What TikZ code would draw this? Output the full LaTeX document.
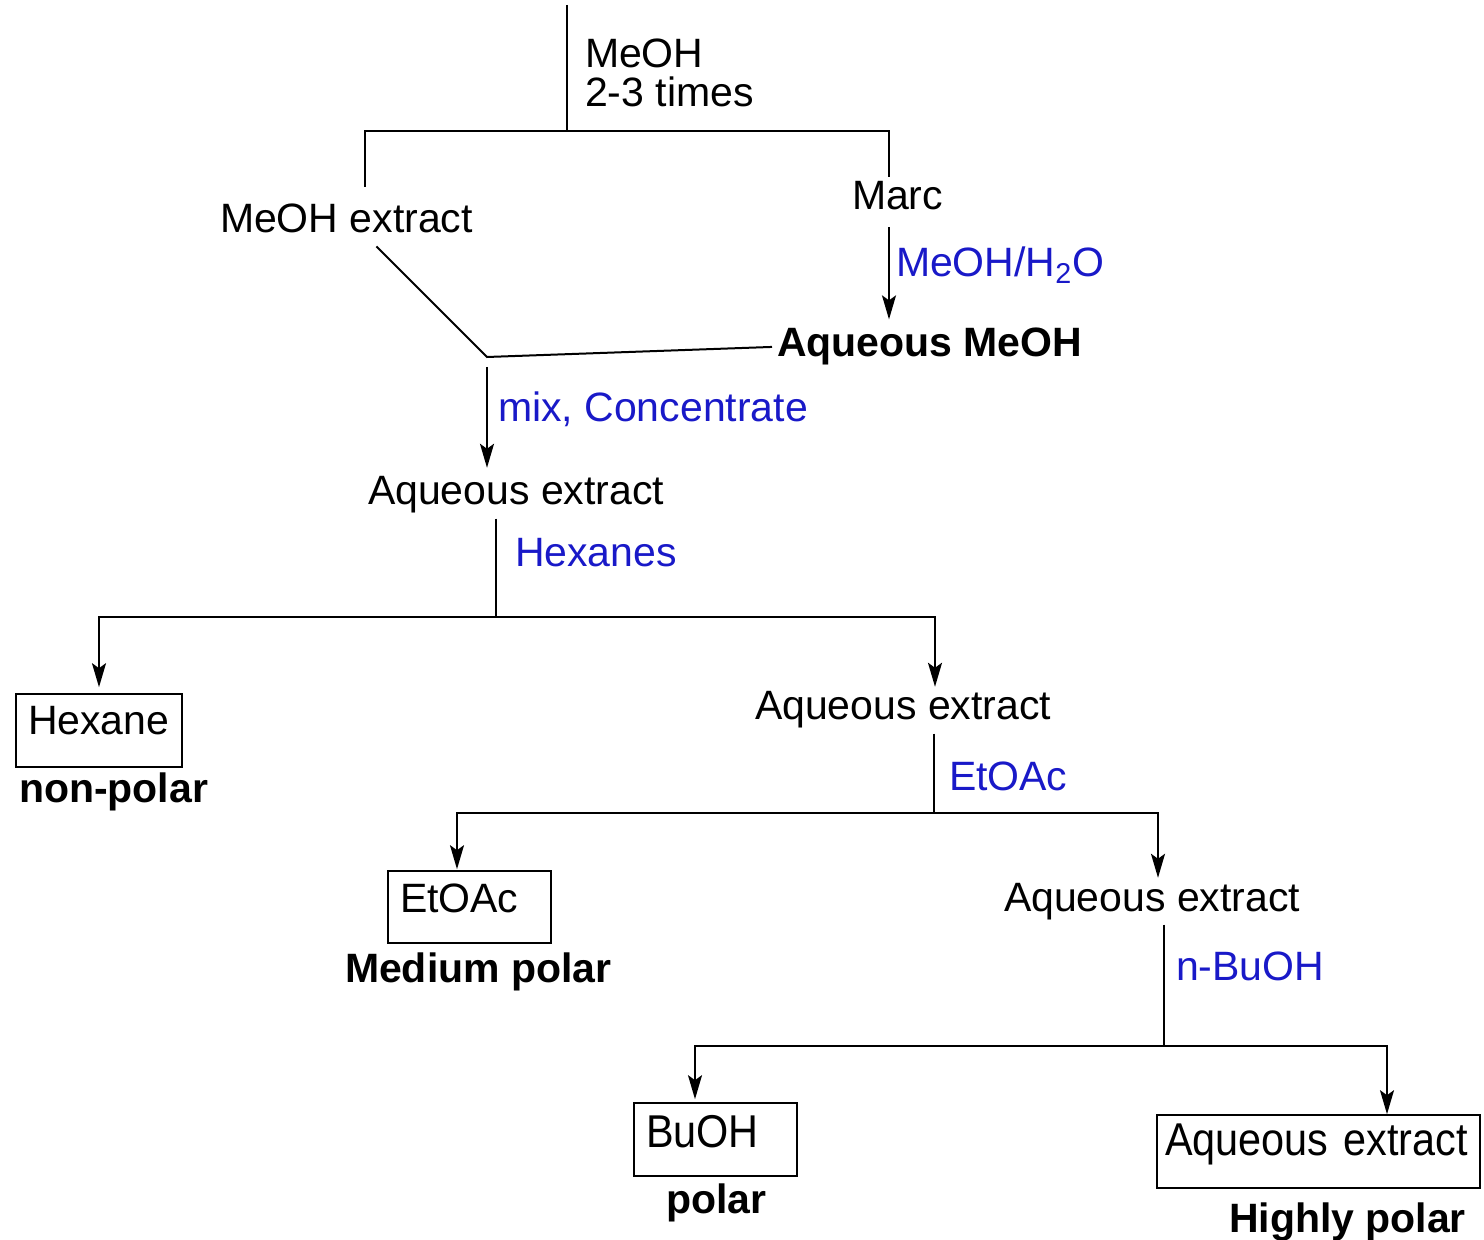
\documentclass[tikz,border=0pt]{standalone}
\usepackage{fontspec}
\setmainfont{Liberation Sans}
\newfontfamily\condfont[FakeStretch=0.9]{Liberation Sans}
\usetikzlibrary{arrows.meta}
\definecolor{lblue}{RGB}{25,25,200}
\newcommand\myfs{\fontsize{20.5}{24}\selectfont}
\newcommand\condfs{\condfont\fontsize{23}{26}\selectfont}
\begin{document}
\begin{tikzpicture}[x=0.5pt,y=-0.5pt,
  line width=1pt,
  txt/.style={font=\myfs, inner sep=2pt, anchor=base west},
  bld/.style={txt, font=\myfs\bfseries},
  lbl/.style={txt, text=lblue},
  box/.style={draw, line width=0.8pt, font=\myfs, inner xsep=6pt, inner ysep=2pt,
              align=left, text height=18.5pt, text depth=14pt},
  arr/.style={-{Stealth[length=12pt,width=7pt,inset=2.5pt]}},
]
\useasboundingbox (0,0) rectangle (1484,1240);

% ---------- nodes ----------
\node[txt] (m1) at (580,68) {MeOH};
\node[txt] (m2) at (580,107) {2-3 times};
\node[txt] (meohext) at (215,233) {MeOH extract};
\node[txt] (marc) at (847,210) {Marc};
\node[lbl] (solv) at (891,277) {MeOH/H\textsubscript{2}O};
\node[bld] (aqm) at (772,357) {Aqueous MeOH};
\node[lbl] (mixl) at (493,422) {mix, Concentrate};
\node[txt] (aqx1) at (363,505) {Aqueous extract};
\node[lbl] (hexl) at (510,567) {Hexanes};
\node[box, text width=71pt] (hexbox) at (99,730.5) {Hexane};
\node[bld] (np) at (14,803) {non-polar};
\node[txt] (aqx2) at (750,720) {Aqueous extract};
\node[lbl] (etl) at (944,791) {EtOAc};
\node[box, text width=69.5pt, text depth=13.5pt] (etbox) at (469.5,907) {EtOAc};
\node[bld] (mp) at (340,982) {Medium polar};
\node[txt] (aqx3) at (999,911) {Aqueous extract};
\node[lbl] (bul) at (1171,980) {n-BuOH};
\node[box, text width=69.5pt, text height=20pt, text depth=12.5pt, font=\condfs] (buohbox) at (715.5,1139.5) {BuOH};
\node[bld] (pol) at (661,1213) {polar};
\node[box, text width=153.5pt, inner xsep=4pt, text height=18pt, text depth=14.5pt, font=\condfs] (hpbox) at (1318.5,1151.5) {Aqueous extract};
\node[bld] (hp) at (1224,1232) {Highly polar};

% ---------- junction points ----------
\coordinate (top) at (567,5);
\coordinate (j1) at (567,131);
\coordinate (jl) at (365,131);
\coordinate (jr) at (889,131);
\coordinate (mix) at (487,357);
\coordinate (h) at (496,617);
\coordinate (hr) at (935,617);
\coordinate (e) at (934,813);
\coordinate (el) at (457,813);
\coordinate (er) at (1158,813);
\coordinate (b) at (1164,1046);
\coordinate (bl) at (695,1046);
\coordinate (br) at (1387,1046);

% ---------- connectors ----------
\draw (top) -- (j1);
\draw[shorten >=6pt] (j1) -- (jl) -- (jl |- meohext.north);
\draw (j1) -- (jr) -- (jr |- marc.north);
\draw[arr, shorten <=6pt, shorten >=2pt] (jr |- marc.south) -- (jr |- aqm.north);
\draw ([xshift=15pt,yshift=-4pt]meohext.south) -- (mix) -- (aqm.west);
\draw[arr, shorten <=5pt, shorten >=2pt] (mix) -- (mix |- aqx1.north);

\draw (h |- aqx1.south) -- (h);
\draw[arr, shorten >=3pt] (h) -| (hexbox.north);
\draw[arr] (h) -- (hr) -- (hr |- aqx2.north);

\draw (e |- aqx2.south) -- (e);
\draw[arr, shorten >=0.5pt] (e) -- (el) -- (el |- etbox.north);
\draw[arr] (e) -- (er) -- (er |- aqx3.north);

\draw (b |- aqx3.south) -- (b);
\draw[arr, shorten >=1.5pt] (b) -- (bl) -- (bl |- buohbox.north);
\draw[arr] (b) -- (br) -- (br |- hpbox.north);
\end{tikzpicture}
\end{document}
